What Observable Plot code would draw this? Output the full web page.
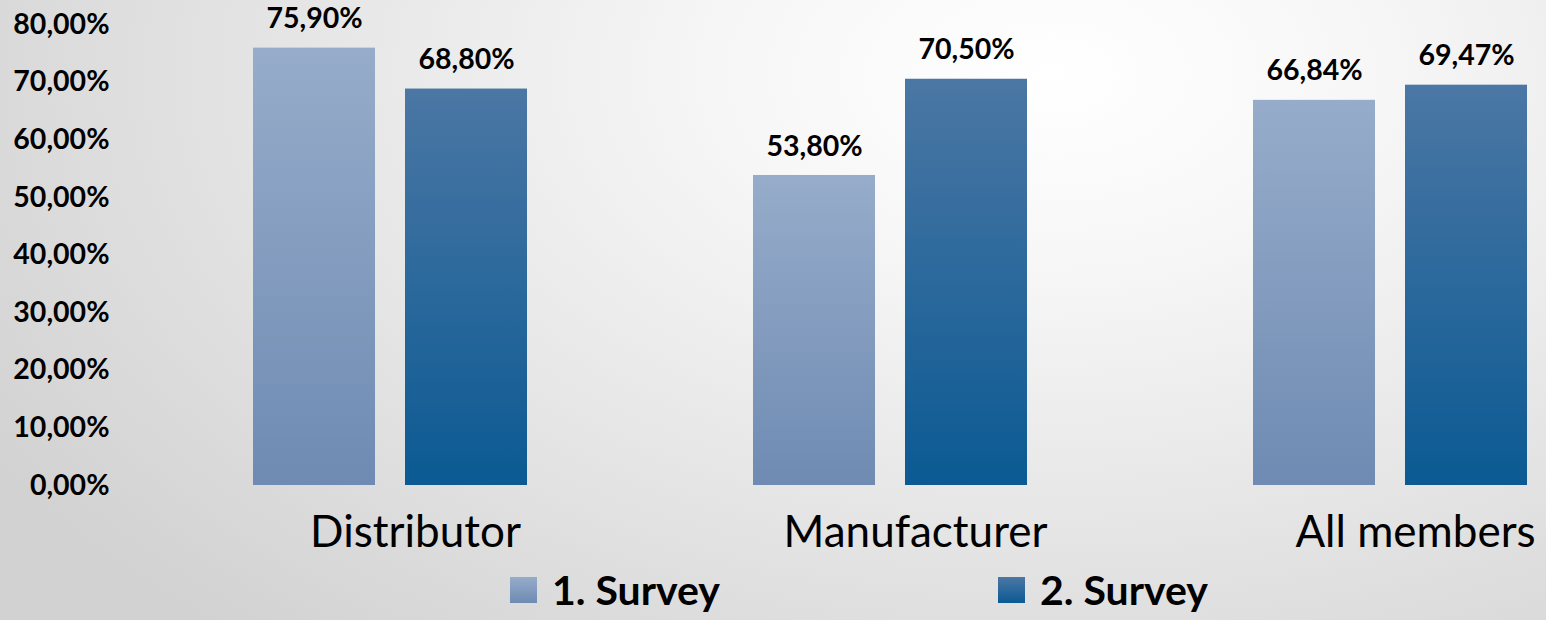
<!DOCTYPE html>
<html><head><meta charset="utf-8">
<script src="https://cdn.jsdelivr.net/npm/d3@7"></script>
<script src="https://cdn.jsdelivr.net/npm/@observablehq/plot@0.6"></script>
<style>
body{margin:0;}
#page{width:1546px;height:620px;position:relative;overflow:hidden;
 background:radial-gradient(ellipse 80% 120% at 68% 12%, #ffffff 0%, #f7f7f7 25%, #e6e6e6 60%, #d2d2d2 100%);
 font-family:Lato, sans-serif;color:#000;}
#chart{position:absolute;left:0;top:0;}
#legend{position:absolute;left:0;top:568px;width:1546px;height:44px;}
.item{position:absolute;top:0;display:flex;align-items:center;height:44px;}
.sw{width:27px;height:26px;margin-right:15px;}
.lbl{font-weight:bold;font-size:41px;line-height:44px;white-space:nowrap;}
</style></head><body><div id="page"><div id="chart"></div><div id="legend"></div></div>
<script>
const categories = ["Distributor", "Manufacturer", "All members"];
const series = ["1. Survey", "2. Survey"];
const survey1 = [75.90, 53.80, 66.84];
const survey2 = [68.80, 70.50, 69.47];
const yTicks = [0, 10, 20, 30, 40, 50, 60, 70, 80];
const gradients = [["g1", "#96acca", "#6f8bb3"], ["g2", "#4b77a4", "#0b5a93"]];

const data = categories.flatMap((c, i) => [
  {category: c, series: series[0], value: survey1[i]},
  {category: c, series: series[1], value: survey2[i]}
]);
const fmt = v => v.toFixed(2).replace(".", ",") + "%";

const chart = Plot.plot({
  width: 1546, height: 570,
  marginTop: 24, marginBottom: 85, marginLeft: 233, marginRight: 0,
  style: {background: "transparent", fontFamily: "Lato, sans-serif", color: "#000", overflow: "visible"},
  fx: {domain: categories, paddingInner: 0.4528, paddingOuter: 0.038, label: null},
  x: {domain: series, paddingInner: 0.1974, paddingOuter: 0, axis: null},
  y: {domain: [0, 80]},
  color: {type: "identity"},
  marks: [
    Plot.barY(data, {fx: "category", x: "series", y: "value",
      fill: d => d.series === series[0] ? "url(#g1)" : "url(#g2)"}),
    Plot.text(data, {fx: "category", x: "series", y: "value", text: d => fmt(d.value),
      dy: -29, fontSize: 28.5, fontWeight: "bold", fill: "#000"}),
    Plot.axisY({ticks: yTicks, tickFormat: fmt, tickSize: 0, tickPadding: 144,
      fontSize: 28.5, fontWeight: "bold", label: null}),
    Plot.axisFx({anchor: "bottom", tickSize: 0, tickPadding: 30, fontSize: 44, dx: 25, label: null})
  ]
});
const defs = d3.select(chart).insert("defs", ":first-child");
for (const [id, top, bottom] of gradients) {
  const g = defs.append("linearGradient").attr("id", id).attr("x1", 0).attr("y1", 0).attr("x2", 0).attr("y2", 1);
  g.append("stop").attr("offset", "0%").attr("stop-color", top);
  g.append("stop").attr("offset", "100%").attr("stop-color", bottom);
}
document.getElementById("chart").appendChild(chart);

const legend = document.getElementById("legend");
const lefts = [510, 998];
series.forEach((s, i) => {
  const item = document.createElement("div");
  item.className = "item";
  item.style.left = lefts[i] + "px";
  const sw = document.createElement("div");
  sw.className = "sw";
  sw.style.background = `linear-gradient(${gradients[i][1]}, ${gradients[i][2]})`;
  const lbl = document.createElement("span");
  lbl.className = "lbl";
  lbl.textContent = s;
  item.appendChild(sw); item.appendChild(lbl);
  legend.appendChild(item);
});
</script></body></html>
